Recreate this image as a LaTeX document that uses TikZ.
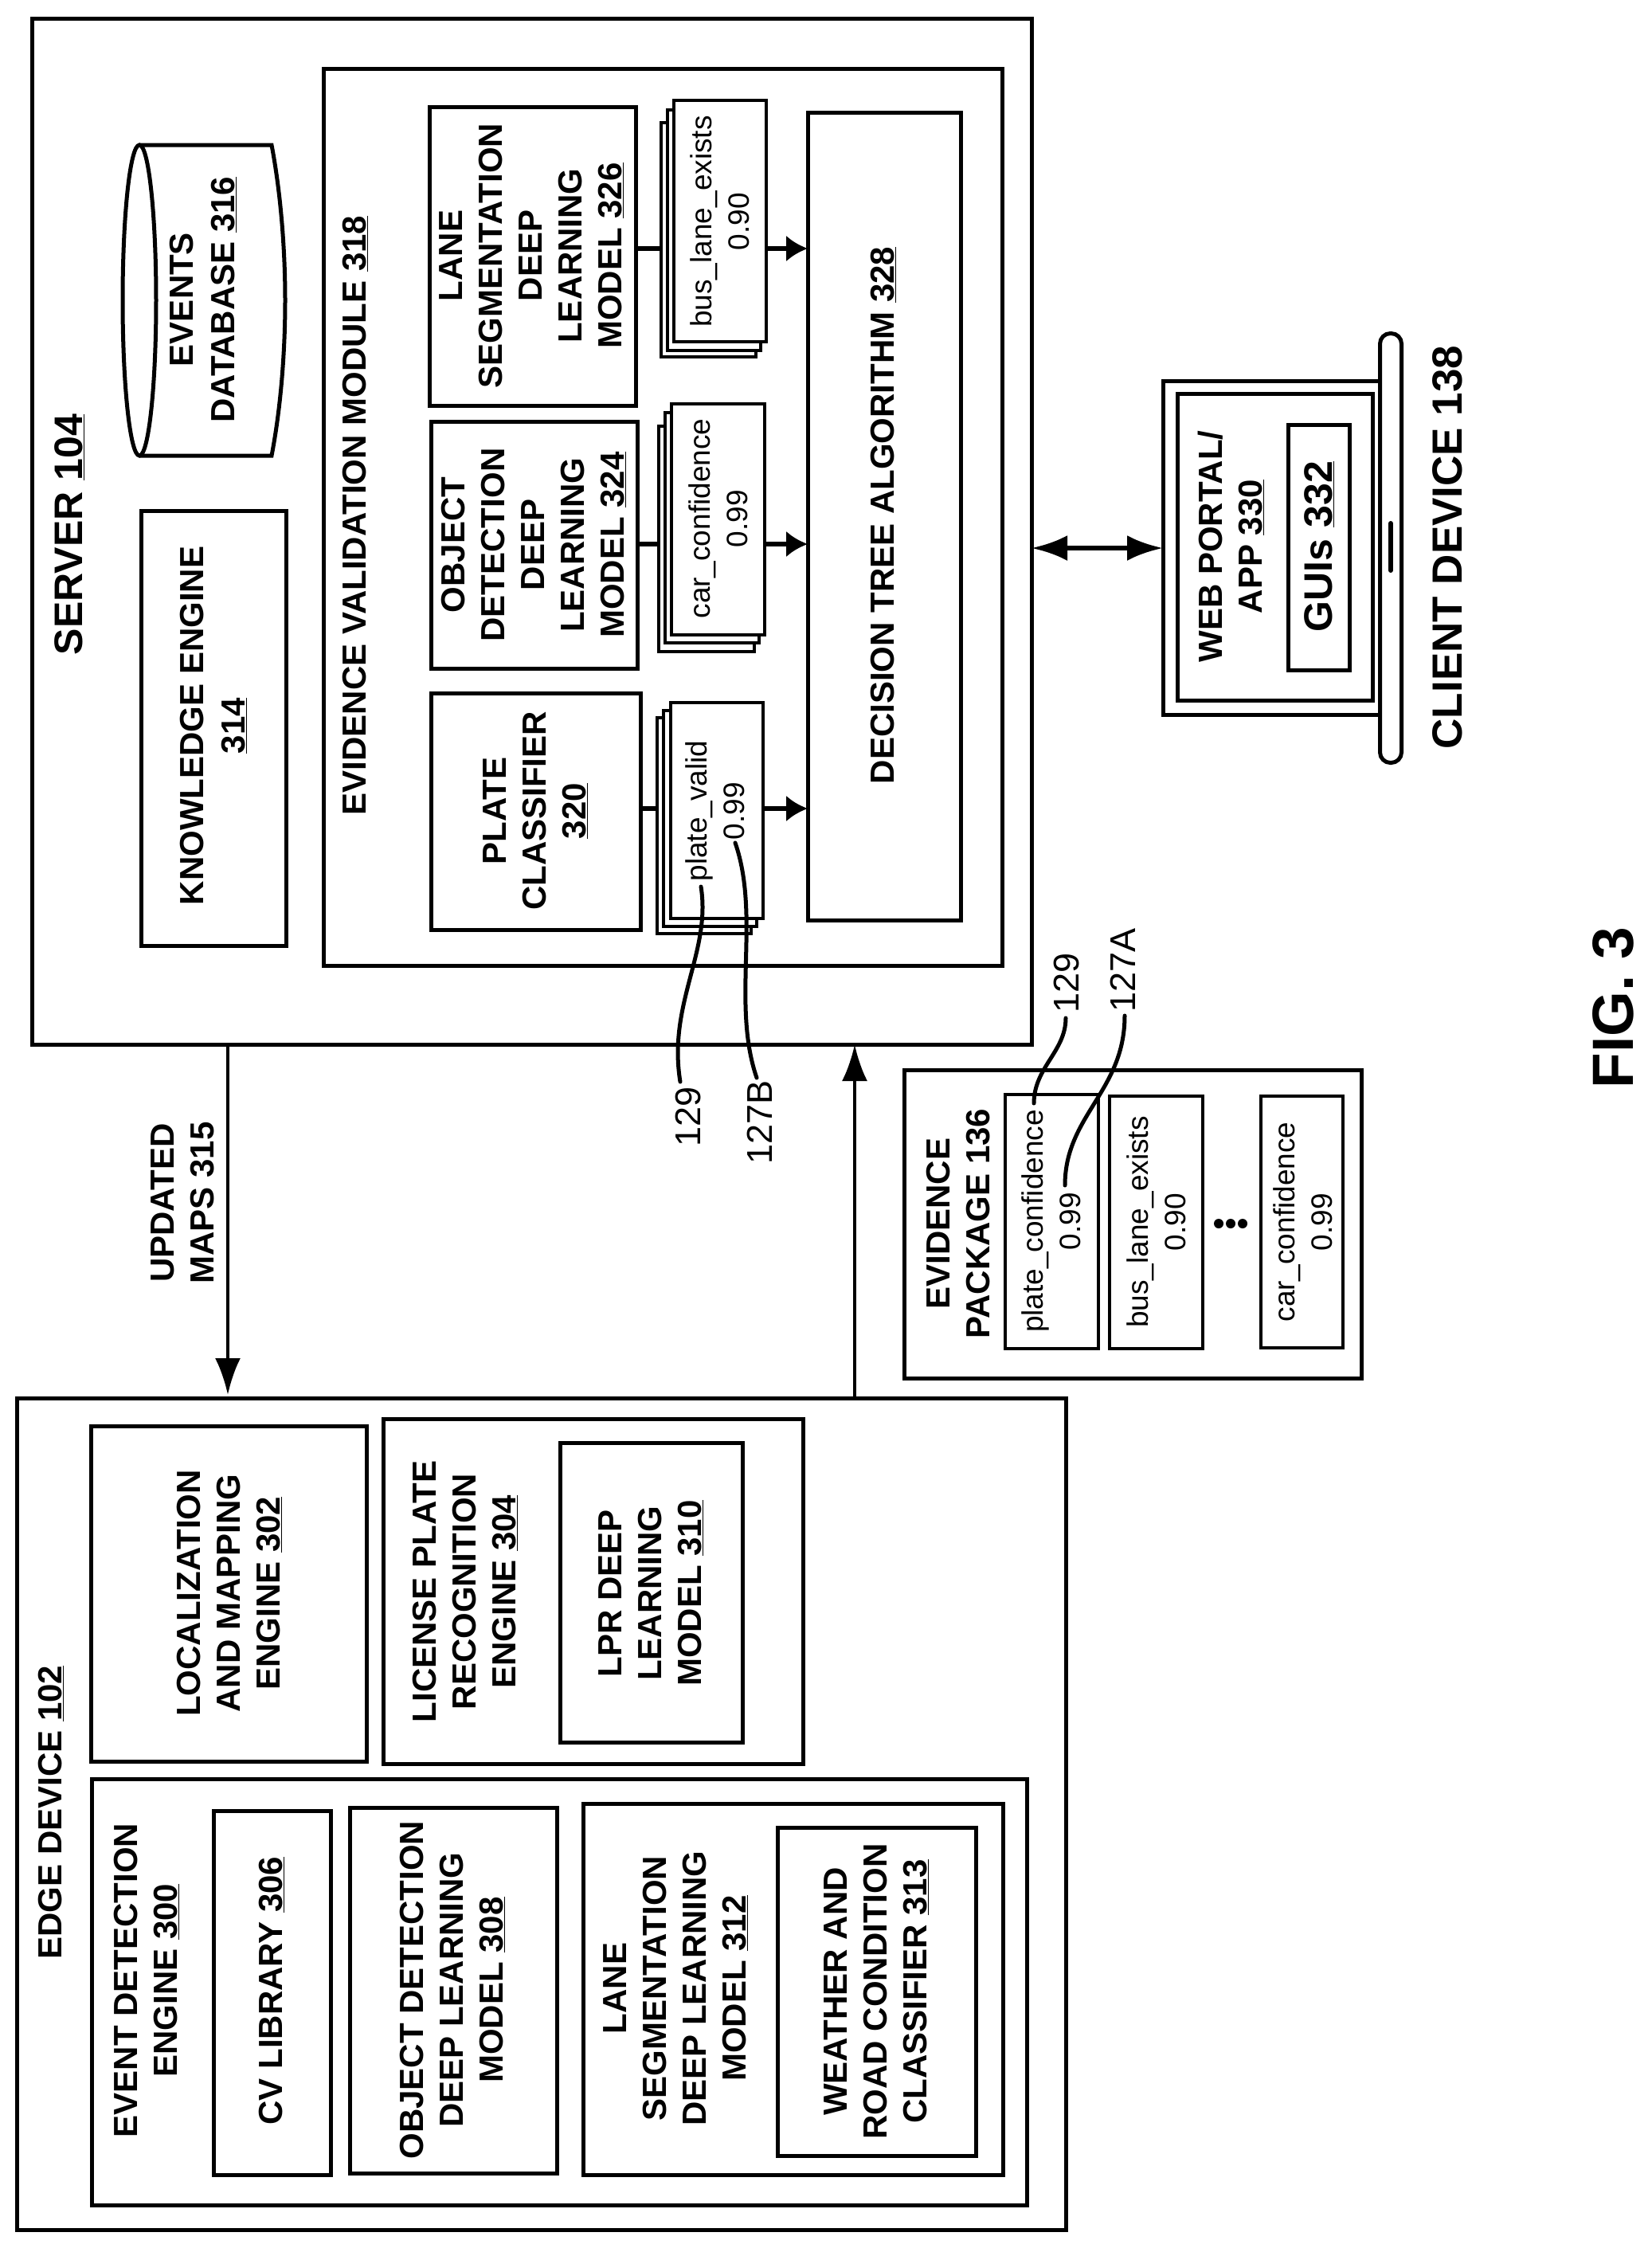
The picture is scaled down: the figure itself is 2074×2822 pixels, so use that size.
\documentclass[tikz,border=0pt]{standalone}
\usepackage{fontspec}
\setmainfont{Liberation Sans}
\usetikzlibrary{arrows.meta}
\newcommand{\num}[1]{\underline{#1}}
\newcommand{\boxat}[6][]{\node[box,#1,minimum width={#5-#3},minimum height={#6-#4}] (#2) at ({(#3+#5)/2},{(#4+#6)/2}) {};}
\tikzset{
    box/.style={draw,line width=5pt,inner sep=0pt,outer sep=0pt},
    sheet/.style={box,line width=3.5pt,fill=white},
    lbl/.style={rotate=90,align=center,inner sep=0pt,font=\bfseries\fontsize{42}{50}\selectfont},
    biglbl/.style={lbl,font=\bfseries\fontsize{50}{58}\selectfont},
    small/.style={rotate=90,align=center,inner sep=0pt,font=\fontsize{37}{47}\selectfont},
    callout/.style={rotate=90,inner sep=0pt,font=\fontsize{45}{50}\selectfont},
    leader/.style={line width=5pt,line cap=round},
    thinarrow/.style={line width=4.5pt,-{Latex[length=46pt,width=32pt]}}
}

\begin{document}
\begin{tikzpicture}[x=1pt,y=-1pt]
    \useasboundingbox (0,0) rectangle (2074,2822);

    % server
    \boxat{server}{40}{23}{1295}{1311}
    \boxat{module}{406}{86}{1258}{1212}
    \boxat{knowledge}{177}{641}{359}{1187}
    \boxat{lane}{539}{134}{798}{509}
    \boxat{object}{541}{529}{800}{839}
    \boxat{plate}{541}{870}{804}{1167}
    \boxat{tree}{1014}{141}{1206}{1155}

    \coordinate (lanearrow) at (1014,312);
    \coordinate (objectarrow) at (1014,683);
    \coordinate (platearrow) at (1014,1015);
    \foreach \from/\to in {lane/lanearrow, object/objectarrow, plate/platearrow}
        \draw[line width=6pt,-{Latex[length=27pt,width=33pt]}] (\from.east |- \to) -- (\to);

    \boxat[sheet]{lanec}{830}{154}{949}{448}
    \boxat[sheet]{laneb}{838}{138}{955}{440}
    \boxat[sheet]{lanea}{846}{126}{962}{429}
    \boxat[sheet]{objc}{827}{535}{947}{818}
    \boxat[sheet]{objb}{835}{518}{953}{807}
    \boxat[sheet]{obja}{843}{507}{960}{797}
    \boxat[sheet]{platec}{825}{901}{943}{1172}
    \boxat[sheet]{plateb}{833}{892}{950}{1163}
    \boxat[sheet]{platea}{842}{882}{958}{1153}

    % database
    \draw[line width=5pt] (175,182) -- (341,182)
        .. controls (352,240) and (358,310) .. (358,377)
        .. controls (358,445) and (352,515) .. (341,572) -- (175,572);
    \draw[line width=5pt] (175,377) ellipse [x radius=21, y radius=195];

    % edge device
    \boxat{edge}{21}{1755}{1338}{2799}
    \boxat{localize}{114}{1790}{460}{2211}
    \boxat{lprengine}{481}{1781}{1008}{2214}
    \boxat{lprmodel}{703}{1811}{932}{2187}
    \boxat{eventengine}{115}{2233}{1289}{2768}
    \boxat{cvlib}{268}{2273}{415}{2730}
    \boxat{objmodel}{439}{2269}{699}{2728}
    \boxat{lanemodel}{732}{2264}{1259}{2730}
    \boxat{weather}{976}{2294}{1225}{2706}

    % evidence package
    \boxat{package}{1135}{1343}{1709}{1730}
    \boxat[line width=4pt]{pkgplate}{1262}{1374}{1379}{1693}
    \boxat[line width=4pt]{pkgbus}{1393}{1376}{1510}{1693}
    \boxat[line width=4pt]{pkgcar}{1583}{1376}{1686}{1692}
    \foreach \d in {1530,1545,1560}
        \fill (\d,1536) circle (6pt);

    % client device
    \boxat{monitor}{1460}{478}{1733}{897}
    \boxat{screen}{1478}{494}{1723}{879}
    \boxat{guis}{1617}{533}{1694}{841}
    \node[box,fill=white,rounded corners=13pt,minimum width=27pt,minimum height=539pt] (stand) at (1746,688) {};
    \draw[line width=6pt,line cap=round] (1746,657) -- (1746,716);

    % arrows between blocks
    \coordinate (mapsline) at (286,1500);
    \coordinate (pkgline) at (1073,1500);
    \coordinate (webline) at (1380,688);
    \draw[thinarrow,shorten >=4pt] (server.south -| mapsline) -- (edge.north -| mapsline);
    \draw[thinarrow] (edge.north -| pkgline) -- (server.south -| pkgline);
    \draw[line width=6pt,{Latex[length=45pt,width=32pt]}-{Latex[length=45pt,width=32pt]}] (server.east |- webline) -- (monitor.west |- webline);

    % leaders
    \coordinate (valid) at (880,1113);
    \coordinate (score) at (923,1058);
    \coordinate (confidence) at (1298,1385);
    \coordinate (value) at (1337,1488);
    \node[callout] (lblvalid) at (864,1402) {129};
    \node[callout] (lblscore) at (954,1409) {127B};
    \node[callout] (lblconfidence) at (1339,1234) {129};
    \node[callout] (lblvalue) at (1410,1218) {127A};
    \draw[leader] (valid) .. controls (893,1195) and (838,1260) .. (854,1358);
    \draw[leader] (score) .. controls (955,1150) and (918,1260) .. (950,1353);
    \draw[leader] (confidence) .. controls (1298,1340) and (1338,1320) .. (1338,1278);
    \draw[leader] (value) .. controls (1337,1400) and (1412,1370) .. (1412,1275);

    % server text
    \node[biglbl] (txtserver) at (87,671) {SERVER \num{104}};
    \node[lbl] (txtdb) at (255,376) {EVENTS\\[2pt]DATABASE \num{316}};
    \node[lbl] (txtknow) at (268,911) {KNOWLEDGE ENGINE\\[2pt]\num{314}};
    \node[lbl] (txtmodule) at (446,647) {EVIDENCE VALIDATION MODULE \num{318}};
    \node[lbl] (txtlane) at (667,321) {LANE\\SEGMENTATION\\DEEP\\LEARNING\\MODEL \num{326}};
    \node[lbl] (txtobject) at (670,684) {OBJECT\\DETECTION\\DEEP\\LEARNING\\MODEL \num{324}};
    \node[lbl] (txtplate) at (672,1018) {PLATE\\CLASSIFIER\\\num{320}};
    \node[lbl] (txttree) at (1109,647) {DECISION TREE ALGORITHM \num{328}};
    \node[small] (txtbus) at (904,278) {bus\_lane\_exists\\0.90};
    \node[small] (txtcar) at (902,651) {car\_confidence\\0.99};
    \node[small] (txtvalid) at (898,1018) {plate\_valid\\0.99};

    % edge text
    \node[lbl] (txtedge) at (64,2275) {EDGE DEVICE \num{102}};
    \node[lbl] (txtlocal) at (288,2000) {LOCALIZATION\\AND MAPPING\\ENGINE \num{302}};
    \node[lbl] (txtlpr) at (584,1998) {LICENSE PLATE\\RECOGNITION\\ENGINE \num{304}};
    \node[lbl] (txtlprm) at (817,2000) {LPR DEEP\\LEARNING\\MODEL \num{310}};
    \node[lbl] (txtevent) at (184,2486) {EVENT DETECTION\\ENGINE \num{300}};
    \node[lbl] (txtcv) at (341,2499) {CV LIBRARY \num{306}};
    \node[lbl] (txtobjm) at (568,2498) {OBJECT DETECTION\\DEEP LEARNING\\MODEL \num{308}};
    \node[lbl] (txtlanem) at (848,2496) {LANE\\SEGMENTATION\\DEEP LEARNING\\MODEL \num{312}};
    \node[lbl] (txtweather) at (1100,2500) {WEATHER AND\\ROAD CONDITION\\CLASSIFIER \num{313}};

    % package text
    \node[lbl] (txtmaps) at (229,1510) {UPDATED\\MAPS 315};
    \node[lbl] (txtpkg) at (1203,1536) {EVIDENCE\\PACKAGE 136};
    \node[small] (txtpc) at (1320,1533) {plate\_confidence\\0.99};
    \node[small] (txtpb) at (1452,1534) {bus\_lane\_exists\\0.90};
    \node[small] (txtpr) at (1636,1534) {car\_confidence\\0.99};

    % client text
    \node[lbl] (txtweb) at (1545,686) {WEB PORTAL/\\APP \num{330}};
    \node[biglbl] (txtguis) at (1656,686) {GUIs \num{332}};
    \node[biglbl,font=\bfseries\fontsize{53}{60}\selectfont] (txtclient) at (1817,687) {CLIENT DEVICE 138};
    \node[biglbl,font=\bfseries\fontsize{73}{80}\selectfont] (txtfig) at (2025,1265) {FIG. 3};
\end{tikzpicture}
\end{document}
